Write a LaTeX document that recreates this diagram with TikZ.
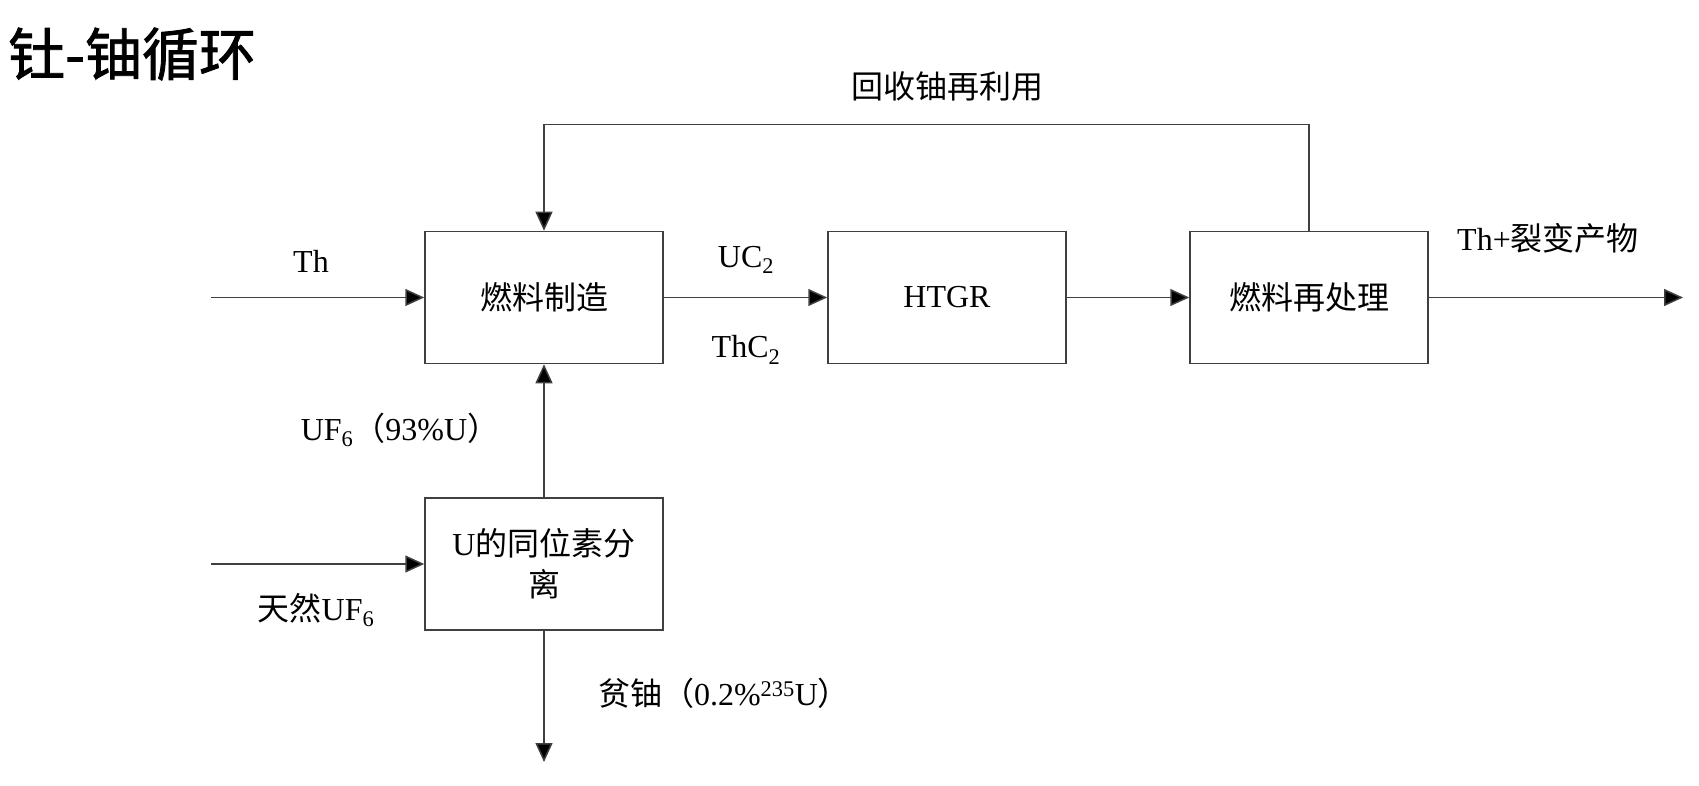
\documentclass[tikz,border=0pt]{standalone}
\usepackage{fontspec}
\setmainfont{Liberation Serif}
\newfontfamily\cjk{Noto Sans CJK SC}
\newfontfamily\cjktitle[FakeBold=1.5]{Noto Sans CJK SC}
\usetikzlibrary{arrows.meta}
\newcommand{\zh}[1]{{\cjk #1}}

\begin{document}
\begin{tikzpicture}[x=1pt,y=-1pt,>={Triangle[length=19pt,width=17pt,fill=black]},
    box/.style={draw=black!75, line width=1.5pt, minimum width=238pt, minimum height=132pt,
        inner sep=0pt, align=center, font=\fontsize{32}{41}\selectfont},
    lbl/.style={inner sep=0pt, font=\fontsize{32}{38}\selectfont},
    flow/.style={->, draw=black!75, line width=1.5pt}]
    \useasboundingbox (0,0) rectangle (1699,786);
    \node[anchor=west, inner sep=0pt, font=\fontsize{57}{60}\selectfont] (title) at (8,54) {\cjktitle 钍-铀循环};

    % boxes
    \node[box] (fab) at (544,297.5) {\zh{燃料制造}};
    \node[box] (htgr) at (947,297.5) {HTGR};
    \node[box] (rep) at (1309,297.5) {\zh{燃料再处理}};
    \node[box] (sep) at (544,564) {U\zh{的同位素分}\\\zh{离}};

    \coordinate (thin) at (211,297.5);
    \coordinate (uin) at (211,564);
    \coordinate (out) at (1683,297.5);
    \coordinate (dep) at (544,762);
    \coordinate (top) at (0,124.6);

    % flows
    \draw[flow] (thin) -- (fab);
    \draw[flow] (fab) -- (htgr);
    \draw[flow] (htgr) -- (rep);
    \draw[flow] (rep) -- (out);
    \draw[flow] (rep.north) -- (rep.north |- top) -| (fab.north);
    \draw[flow] (uin) -- (sep);
    \draw[flow] (sep) -- (fab);
    \draw[flow] (sep) -- (dep);

    % labels
    \node[lbl] (lth) at (311,261) {Th};
    \node[lbl] (luc) at (746,260) {UC\textsubscript{2}};
    \node[lbl] (lthc) at (746,350) {ThC\textsubscript{2}};
    \node[lbl] (lfp) at (1548,238) {Th+\zh{裂变产物}};
    \node[lbl] (lrec) at (947,86) {\zh{回收铀再利用}};
    \node[lbl] (luf) at (400,430) {UF\textsubscript{6}\zh{（}93\%U\zh{）}};
    \node[lbl] (lnat) at (316,610) {\zh{天然}UF\textsubscript{6}};
    \node[lbl] (ldep) at (724,693) {\zh{贫铀（}0.2\%\textsuperscript{235}U\zh{）}};
\end{tikzpicture}
\end{document}
